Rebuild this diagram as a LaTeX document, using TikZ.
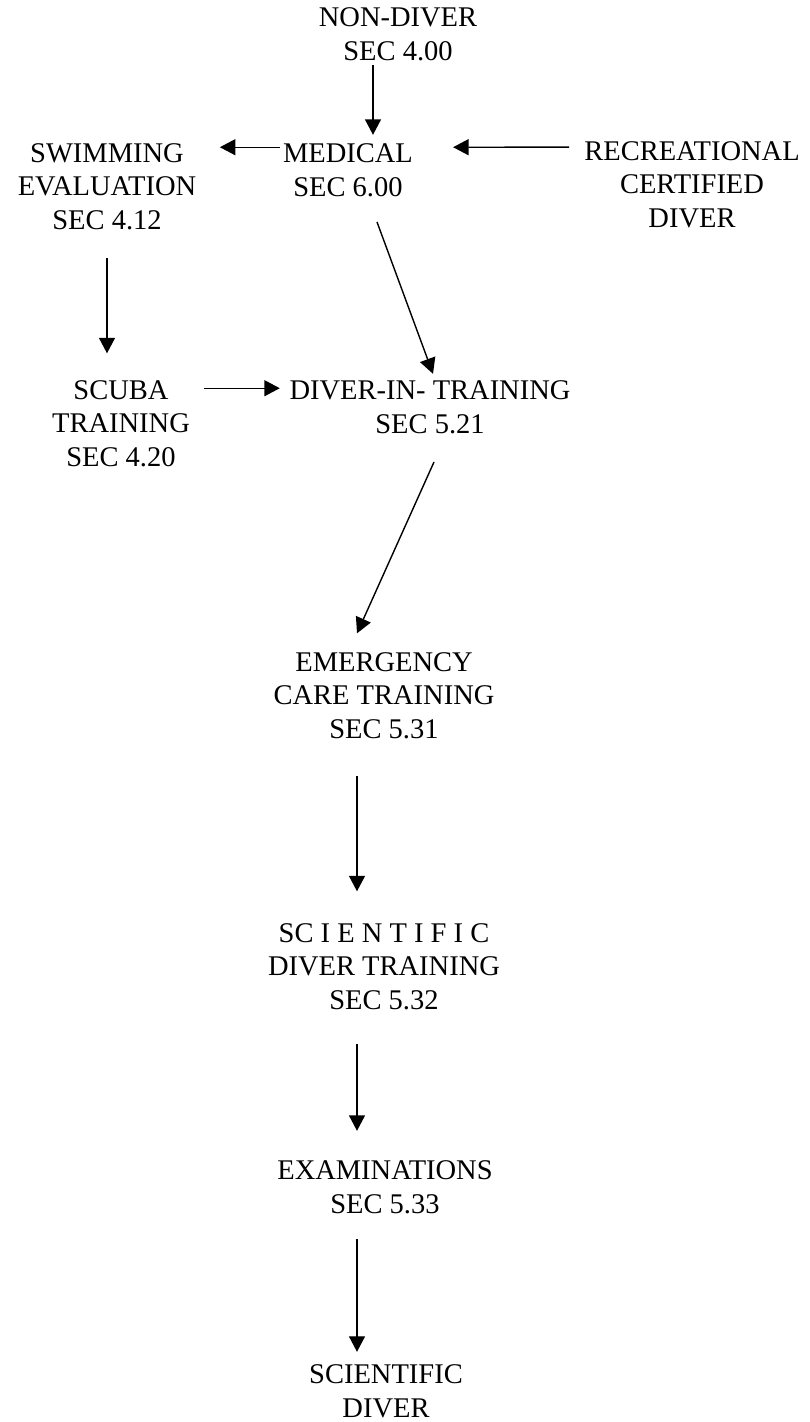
\documentclass[tikz,border=0pt]{standalone}
\usepackage{fontspec}
\setmainfont{Liberation Serif}
\usetikzlibrary{arrows.meta}

\tikzset{
  lbl/.style={align=center, inner sep=0pt, anchor=south, font=\fontsize{28.5}{33.5}\selectfont},
  flow/.style={-{Triangle[length=15.5pt,width=16pt]}, line width=1.4pt}
}

\begin{document}
\begin{tikzpicture}[scale=1.000000,x=1pt,y=1pt]
\useasboundingbox (0.000000, 0.000000) rectangle (809.000000, 1422.000000);
% Drawing stages
% Stage 1: entry
\node[lbl] (nondiver) at (398.000000, 1361.000000) {NON-DIVER\\SEC 4.00};
% Stage 2: medical row
\node[lbl] (medical) at (348.000000, 1225.000000) {MEDICAL\\SEC 6.00};
\node[lbl] (swimming) at (107.000000, 1192.000000) {SWIMMING\\EVALUATION\\SEC 4.12};
\node[lbl] (recreational) at (692.000000, 1194.000000) {RECREATIONAL\\CERTIFIED\\DIVER};
% Stage 3: training row
\node[lbl] (scuba) at (121.000000, 955.000000) {SCUBA\\TRAINING\\SEC 4.20};
\node[lbl] (dit) at (430.000000, 988.000000) {DIVER-IN- TRAINING\\SEC 5.21};
% Stage 4: main column
\node[lbl] (emergency) at (384.000000, 683.000000) {EMERGENCY\\CARE TRAINING\\SEC 5.31};
\node[lbl] (scitraining) at (384.000000, 412.000000) {SC I E N T I F I C\\DIVER TRAINING\\SEC 5.32};
\node[lbl] (exams) at (385.000000, 208.000000) {EXAMINATIONS\\SEC 5.33};
\node[lbl] (scidiver) at (386.000000, 4.000000) {SCIENTIFIC\\DIVER};
% Done with stages; drawing arrows
\draw[flow] ([xshift=-25pt,yshift=-4pt]nondiver.south) -- ([xshift=25pt,yshift=9pt]medical.north);
\draw[flow] ([xshift=-3pt,yshift=-3.4pt]medical.north west) -- ([xshift=23.5pt,yshift=-3.9pt]swimming.north east);
\draw[flow] ([xshift=-15pt,yshift=-5.9pt]recreational.north west) -- ([xshift=40pt,yshift=-3.4pt]medical.north east);
\draw[flow] ([yshift=-28pt]swimming.south) -- ([xshift=-14pt,yshift=27pt]scuba.north);
\draw[flow] ([xshift=29pt,yshift=-25pt]medical.south) -- ([xshift=3pt,yshift=7pt]dit.north);
\draw[flow] ([xshift=13.5pt,yshift=-7.9pt]scuba.north east) -- ([xshift=-9.5pt,yshift=-7.4pt]dit.north west);
\draw[flow] ([xshift=4pt,yshift=-28pt]dit.south) -- ([xshift=-27pt,yshift=19pt]emergency.north);
\draw[flow] ([xshift=-27pt,yshift=-37pt]emergency.south) -- ([xshift=-27pt,yshift=32pt]scitraining.north);
\draw[flow] ([xshift=-27pt,yshift=-34pt]scitraining.south) -- ([xshift=-28pt,yshift=30pt]exams.north);
\draw[flow] ([xshift=-28pt,yshift=-25pt]exams.south) -- ([xshift=-29pt,yshift=13pt]scidiver.north);
% Done with arrows
\end{tikzpicture}
\end{document}
